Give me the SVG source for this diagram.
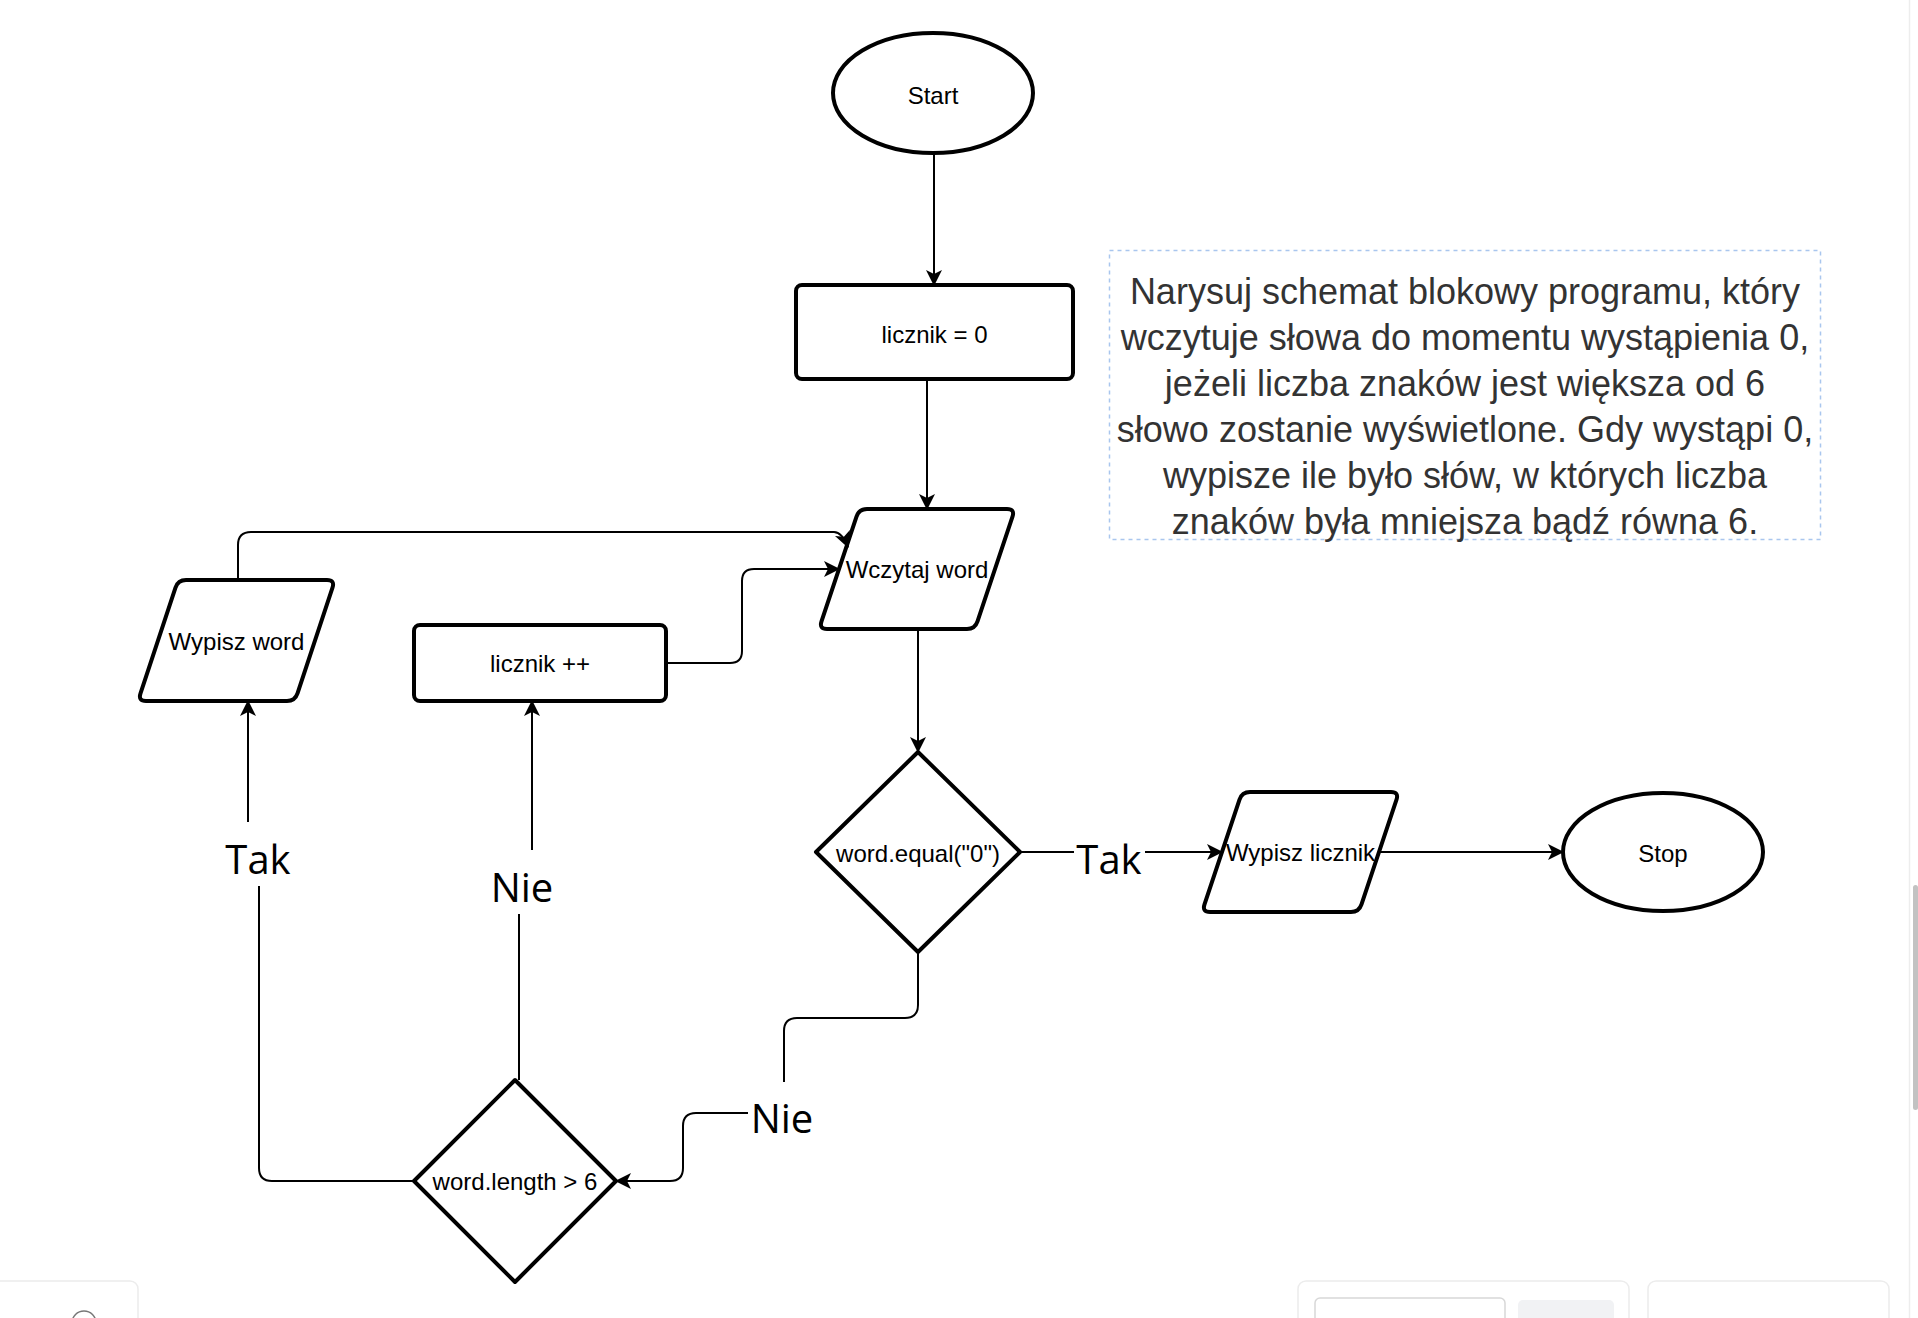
<svg xmlns="http://www.w3.org/2000/svg" width="1918" height="1318" viewBox="0 0 1918 1318">
  <defs>
    <style>
      .node { fill: #ffffff; stroke: #000000; stroke-width: 4; stroke-linejoin: round; }
      .edge { fill: none; stroke: #000000; stroke-width: 2; }
      .arrow { marker-end: url(#arr); }
      .t { font-family: "Liberation Sans", Arial, Helvetica, sans-serif; font-size: 24px; fill: #000000; text-anchor: middle; }
      .lbl { font-family: "Open Sans", "DejaVu Sans", sans-serif; font-size: 40px; fill: #000000; text-anchor: middle; }
      .note { font-family: "Liberation Sans", Arial, Helvetica, sans-serif; font-size: 36px; fill: #333333; text-anchor: middle; }
      .chrome { fill: #ffffff; stroke: #ececec; stroke-width: 1.5; }
    </style>
    <marker id="arr" viewBox="0 0 16 16" refX="15" refY="8" markerWidth="16" markerHeight="16" markerUnits="userSpaceOnUse" orient="auto">
      <path d="M16,8 L0,0 L4,8 L0,16 Z" fill="#000000"/>
    </marker>
  </defs>
  <rect x="0" y="0" width="1918" height="1318" fill="#ffffff"/>

  <g id="node-start">
    <ellipse class="node" cx="933" cy="93" rx="100" ry="60"/>
    <text class="t" x="933" y="104">Start</text>
  </g>
  <g id="node-licznik0">
    <rect class="node" x="796" y="285" width="277" height="94" rx="6"/>
    <text class="t" x="934.5" y="343">licznik = 0</text>
  </g>
  <g id="node-wczytaj">
    <path class="node" d="M867,509 L1007,509 Q1015,509 1012.5,516.6 L977.5,621.4 Q975,629 967,629 L827,629 Q819,629 821.5,621.4 L856.5,516.6 Q859,509 867,509 Z"/>
    <text class="t" x="917" y="578">Wczytaj word</text>
  </g>
  <g id="node-equal">
    <polygon class="node" points="918,752 1020,852 918,952 816,852" stroke-linejoin="miter"/>
    <text class="t" x="918" y="862">word.equal("0")</text>
  </g>
  <g id="node-wypisz-licznik">
    <path class="node" d="M1250,792 L1391,792 Q1399,792 1396.5,799.6 L1361.5,904.4 Q1359,912 1351,912 L1210,912 Q1202,912 1204.5,904.4 L1239.5,799.6 Q1242,792 1250,792 Z"/>
    <text class="t" x="1300.5" y="861">Wypisz licznik</text>
  </g>
  <g id="node-stop">
    <ellipse class="node" cx="1663" cy="852" rx="100" ry="59"/>
    <text class="t" x="1663" y="862">Stop</text>
  </g>
  <g id="node-length">
    <polygon class="node" points="515,1080 616,1181 515,1282 414,1181" stroke-linejoin="miter"/>
    <text class="t" x="515" y="1190">word.length &gt; 6</text>
  </g>
  <g id="node-wypisz-word">
    <path class="node" d="M186,580 L327,580 Q335,580 332.5,587.6 L297.5,693.4 Q295,701 287,701 L146,701 Q138,701 140.5,693.4 L175.5,587.6 Q178,580 186,580 Z"/>
    <text class="t" x="236.5" y="650">Wypisz word</text>
  </g>
  <g id="node-licznik-inc">
    <rect class="node" x="414" y="625" width="252" height="76" rx="6"/>
    <text class="t" x="540" y="672">licznik ++</text>
  </g>
  <g id="node-note">
    <rect x="1109.5" y="250.5" width="711" height="289" fill="none" stroke="#a9c6ee" stroke-width="1.5" stroke-dasharray="4 4"/>
    <text class="note" x="1465" y="304">Narysuj schemat blokowy programu, który</text>
    <text class="note" x="1465" y="350">wczytuje słowa do momentu wystąpienia 0,</text>
    <text class="note" x="1465" y="396">jeżeli liczba znaków jest większa od 6</text>
    <text class="note" x="1465" y="442">słowo zostanie wyświetlone. Gdy wystąpi 0,</text>
    <text class="note" x="1465" y="488">wypisze ile było słów, w których liczba</text>
    <text class="note" x="1465" y="534">znaków była mniejsza bądź równa 6.</text>
  </g>

  <g id="connectors">
    <path class="edge arrow" d="M934,153 V285"/>
    <path class="edge arrow" d="M927,379 V509"/>
    <path class="edge arrow" d="M918,629 V752"/>
    <path class="edge" d="M1020,852 H1074"/>
    <text class="lbl" x="1109" y="874">Tak</text>
    <path class="edge arrow" d="M1145,852 H1222"/>
    <path class="edge arrow" d="M1379,852 H1563"/>
    <path class="edge" d="M918,952 V1005 Q918,1018 905,1018 H797 Q784,1018 784,1031 V1082"/>
    <text class="lbl" x="782" y="1133">Nie</text>
    <path class="edge arrow" d="M748,1113 H696 Q683,1113 683,1126 V1168 Q683,1181 670,1181 H616"/>
    <path class="edge" d="M519,1080 V914"/>
    <text class="lbl" x="522" y="902">Nie</text>
    <path class="edge arrow" d="M532,850 V701"/>
    <path class="edge" d="M414,1181 H272 Q259,1181 259,1168 V886"/>
    <text class="lbl" x="258" y="874">Tak</text>
    <path class="edge arrow" d="M248,822 V701"/>
    <path class="edge arrow" d="M666,663 H730 Q742,663 742,651 V581 Q742,569 754,569 H839"/>
    <path class="edge arrow" d="M238,580 V545 Q238,532 251,532 H834 Q842,532 848,547"/>
  </g>

  <g id="viewer-chrome">
    <line x1="1909.5" y1="0" x2="1909.5" y2="1318" stroke="#ededed" stroke-width="1.5"/>
    <rect x="1913" y="885" width="5" height="225" rx="2.5" fill="#c2c2c2"/>
    <rect class="chrome" x="-10" y="1281" width="148" height="60" rx="8"/>
    <circle cx="84" cy="1323" r="12" fill="none" stroke="#777777" stroke-width="1.5"/>
    <rect class="chrome" x="1298" y="1281" width="331" height="60" rx="8"/>
    <rect x="1315" y="1298" width="190" height="40" rx="5" fill="#ffffff" stroke="#d8d8d8" stroke-width="1.5"/>
    <rect x="1518" y="1300" width="96" height="40" rx="5" fill="#f1f2f4"/>
    <rect class="chrome" x="1648" y="1281" width="241" height="60" rx="8"/>
  </g>
</svg>
